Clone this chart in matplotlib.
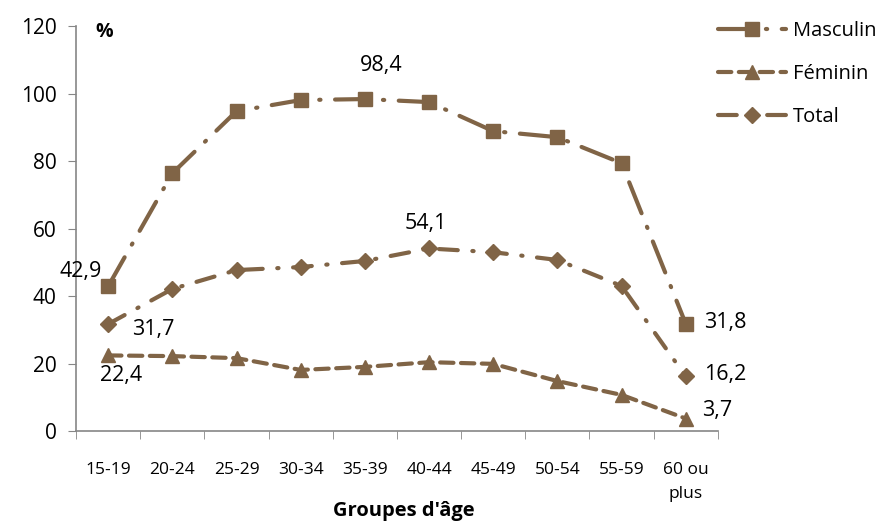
import matplotlib.pyplot as plt
import numpy as np

plt.rcParams['font.family'] = ['Open Sans', 'DejaVu Sans']

groupes = ['15-19', '20-24', '25-29', '30-34', '35-39', '40-44',
           '45-49', '50-54', '55-59', '60 ou\nplus']
masculin = [42.9, 76.4, 94.8, 98.1, 98.4, 97.5, 88.9, 87.1, 79.4, 31.8]
feminin = [22.4, 22.2, 21.6, 18.1, 19.0, 20.4, 19.9, 14.8, 10.7, 3.7]
total = [31.7, 42.1, 47.7, 48.6, 50.4, 54.1, 53.0, 50.7, 43.0, 16.2]

brun = '#806446'
gris = '#868686'

fig = plt.figure(figsize=(8.95, 5.24), dpi=100)
ax = fig.add_axes([0.085, 0.1775, 0.717, 0.7725])

x = np.arange(len(groupes))
ax.plot(x, masculin, color=brun, lw=3, marker='s', ms=10,
        dashes=(8, 3.5, 0.3, 3.5), dash_capstyle='round', label='Masculin')
ax.plot(x, feminin, color=brun, lw=3, marker='^', ms=10,
        dashes=(3.2, 1.8), dash_capstyle='round', label='Féminin')
ax.plot(x, total, color=brun, lw=3, marker='D', ms=8,
        dashes=(4.5, 3.5, 0.3, 3.5), dash_capstyle='round', label='Total')

# etiquettes de valeurs
fs = 15.5
ax.text(0 - 0.1, masculin[0] + 4.5, '42,9', fontsize=fs, ha='right', va='center')
ax.text(0 + 0.38, total[0] - 1.5, '31,7', fontsize=fs, ha='left', va='center')
ax.text(0 + 0.2, feminin[0] - 6, '22,4', fontsize=fs, ha='center', va='center')
ax.text(4 + 0.25, masculin[4] + 10, '98,4', fontsize=fs, ha='center', va='center')
ax.text(5 - 0.05, total[5] + 7.5, '54,1', fontsize=fs, ha='center', va='center')
ax.text(9 + 0.28, masculin[9] + 0.5, '31,8', fontsize=fs, ha='left', va='center')
ax.text(9 + 0.28, total[9] + 0.5, '16,2', fontsize=fs, ha='left', va='center')
ax.text(9 + 0.25, feminin[9] + 2.5, '3,7', fontsize=fs, ha='left', va='center')

ax.set_xlim(-0.5, 9.5)
ax.set_ylim(0, 120)
ax.set_yticks(np.arange(0, 121, 20))
ax.set_xticks(x)
ax.set_xticklabels(groupes, fontsize=12.5, linespacing=1.7)
ax.set_xticks(np.arange(-0.5, 10, 1), minor=True)
ax.tick_params(axis='x', which='major', length=0, pad=22)
ax.tick_params(axis='x', which='minor', length=6, color=gris, direction='out')
ax.tick_params(axis='y', labelsize=15, length=6, color=gris, pad=8)
for s in ['top', 'right']:
    ax.spines[s].set_visible(False)
for s in ['left', 'bottom']:
    ax.spines[s].set_color(gris)
    ax.spines[s].set_linewidth(1.2)

ax.text(0.03, 0.985, '%', transform=ax.transAxes, fontsize=14,
        fontweight='bold', ha='left', va='center')
fig.text(0.451, 0.024, "Groupes d'âge", fontsize=14.5, fontweight='bold',
         ha='center', va='center')

fig.legend(loc='upper left', bbox_to_anchor=(0.782, 0.995), frameon=False,
           fontsize=14.5, handlelength=3.4, labelspacing=1.15, handletextpad=0.3)

fig.savefig('out.png', dpi=100)
